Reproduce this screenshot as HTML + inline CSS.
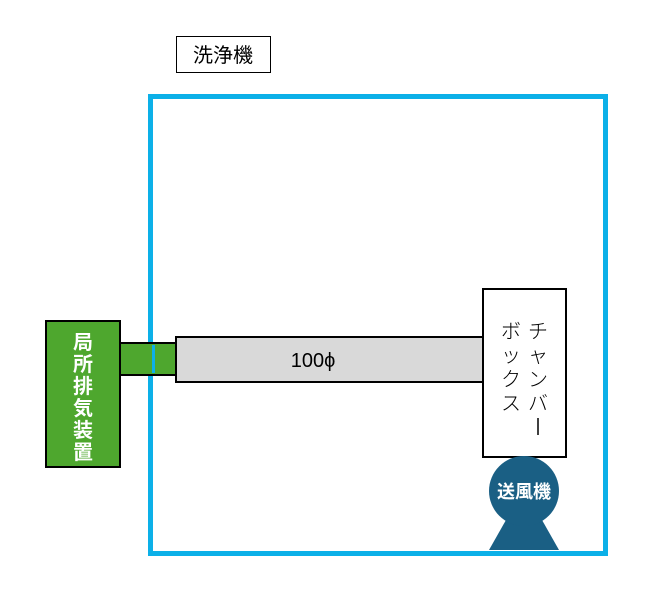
<!DOCTYPE html>
<html><head><meta charset="utf-8"><style>
body{margin:0;width:660px;height:605px;background:#fff;overflow:hidden;font-family:"Liberation Sans","Noto Sans CJK JP",sans-serif}
</style></head><body>
<svg width="660" height="605" xmlns="http://www.w3.org/2000/svg" style="position:absolute;left:0;top:0">
<rect x="176.5" y="36.5" width="94" height="36" fill="#fff" stroke="#000" stroke-width="1"/>
<text x="223" y="62" font-size="20" text-anchor="middle" font-family="Noto Sans CJK JP,sans-serif">洗浄機</text>
<rect x="150.5" y="96.5" width="455" height="457" fill="none" stroke="#0cb0e8" stroke-width="5"/>
<rect x="120" y="343" width="57" height="32" fill="#4ea72e" stroke="#000" stroke-width="2"/>
<rect x="152" y="345" width="3" height="28" fill="#0cb0e8"/>
<rect x="176" y="337" width="308" height="45" fill="#d9d9d9" stroke="#000" stroke-width="2"/>
<text x="313" y="367" font-size="20" text-anchor="middle">100ϕ</text>
<rect x="46" y="321" width="74" height="146" fill="#4ea72e" stroke="#000" stroke-width="2"/>
<g font-size="20" font-weight="bold" fill="#fff" text-anchor="middle" font-family="Noto Sans CJK JP,sans-serif">
<text x="83" y="349">局</text><text x="83" y="371">所</text><text x="83" y="393">排</text><text x="83" y="415">気</text><text x="83" y="437">装</text><text x="83" y="459">置</text></g>
<rect x="483" y="289" width="83" height="168" fill="#fff" stroke="#000" stroke-width="2"/>
<g font-size="20" font-weight="300" text-anchor="middle" font-family="Noto Sans CJK JP,sans-serif">
<text x="538" y="338">チ</text><text x="538" y="362">ャ</text><text x="538" y="386">ン</text><text x="538" y="410">バ</text>
<text x="511" y="338">ボ</text><text x="511" y="362">ッ</text><text x="511" y="386">ク</text><text x="511" y="410">ス</text>
</g>
<line x1="538" y1="418" x2="538" y2="435" stroke="#000" stroke-width="1.5"/>
<polygon points="506,520 542,520 559,550 489,550" fill="#1a5f84"/>
<circle cx="524" cy="491" r="35" fill="#1a5f84"/>
<text x="524" y="498" font-size="18" font-weight="bold" fill="#fff" text-anchor="middle" font-family="Noto Sans CJK JP,sans-serif">送風機</text>
</svg>
</body></html>
